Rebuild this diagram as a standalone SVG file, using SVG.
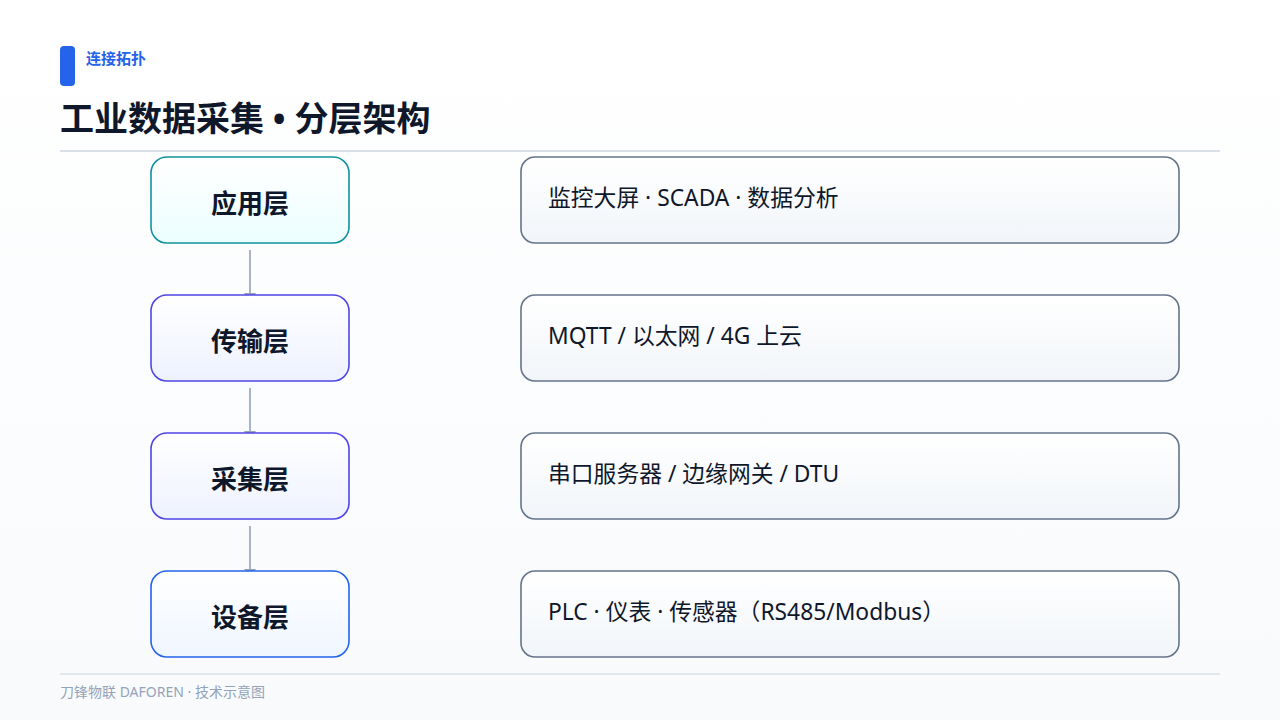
<svg xmlns="http://www.w3.org/2000/svg" width="1280" height="720" viewBox="0 0 1280 720">
<defs>
<linearGradient id="bg" x1="0" y1="0" x2="0" y2="1"><stop offset="0" stop-color="#ffffff"/><stop offset="1" stop-color="#f8fafc"/></linearGradient>
<linearGradient id="gTeal" x1="0" y1="0" x2="0" y2="1"><stop offset="0" stop-color="#ffffff"/><stop offset="1" stop-color="#ecfeff"/></linearGradient>
<linearGradient id="gIndigo" x1="0" y1="0" x2="0" y2="1"><stop offset="0" stop-color="#ffffff"/><stop offset="1" stop-color="#eef2ff"/></linearGradient>
<linearGradient id="gBlue" x1="0" y1="0" x2="0" y2="1"><stop offset="0" stop-color="#ffffff"/><stop offset="1" stop-color="#eff6ff"/></linearGradient>
<linearGradient id="gSlate" x1="0" y1="0" x2="0" y2="1"><stop offset="0" stop-color="#ffffff"/><stop offset="1" stop-color="#f1f5f9"/></linearGradient>
<marker id="arr" markerWidth="10" markerHeight="12" refX="9" refY="6" orient="auto" markerUnits="userSpaceOnUse"><path d="M0,0 L10,6 L0,12 Z" fill="#94a3b8"/></marker>
<style>
text{font-family:"Noto Sans","Noto Sans CJK SC",sans-serif;}
.lbl{font-size:26px;font-weight:700;fill:#0f172a;text-anchor:middle;}
.desc{font-size:22.8px;fill:#0f172a;}
.rbox{fill:url(#gSlate);stroke:#64748b;stroke-width:1.6;}
.conn{stroke:#94a3b8;stroke-width:1.6;fill:none;}
</style>
</defs>
<rect width="1280" height="720" fill="url(#bg)"/>
<g id="header">
<rect x="60" y="46" width="15" height="40" rx="4" fill="#2563eb"/>
<text x="86" y="64" font-size="15" font-weight="700" fill="#2563eb">连接拓扑</text>
<text x="60" y="131" font-size="34" font-weight="700" fill="#0f172a">工业数据采集 • 分层架构</text>
<line x1="60" y1="151" x2="1220" y2="151" stroke="#cbd5e1" stroke-width="1.5"/>
</g>
<g id="connectors">
<line class="conn" x1="250" y1="250" x2="250" y2="302" marker-end="url(#arr)"/>
<line class="conn" x1="250" y1="388" x2="250" y2="440" marker-end="url(#arr)"/>
<line class="conn" x1="250" y1="526" x2="250" y2="578" marker-end="url(#arr)"/>
</g>
<g id="node-app">
<rect x="151" y="157" width="198" height="86" rx="16" fill="url(#gTeal)" stroke="#0e939f" stroke-width="1.6"/>
<text class="lbl" x="250" y="213">应用层</text>
</g>
<g id="node-trans">
<rect x="151" y="295" width="198" height="86" rx="16" fill="url(#gIndigo)" stroke="#4f46e5" stroke-width="1.6"/>
<text class="lbl" x="250" y="351">传输层</text>
</g>
<g id="node-collect">
<rect x="151" y="433" width="198" height="86" rx="16" fill="url(#gIndigo)" stroke="#4f46e5" stroke-width="1.6"/>
<text class="lbl" x="250" y="489">采集层</text>
</g>
<g id="node-device">
<rect x="151" y="571" width="198" height="86" rx="16" fill="url(#gBlue)" stroke="#2563eb" stroke-width="1.6"/>
<text class="lbl" x="250" y="627">设备层</text>
</g>
<g id="desc-app">
<rect class="rbox" x="521" y="157" width="658" height="86" rx="14"/>
<text class="desc" x="548" y="206">监控大屏 · SCADA · 数据分析</text>
</g>
<g id="desc-trans">
<rect class="rbox" x="521" y="295" width="658" height="86" rx="14"/>
<text class="desc" x="548" y="344">MQTT / 以太网 / 4G 上云</text>
</g>
<g id="desc-collect">
<rect class="rbox" x="521" y="433" width="658" height="86" rx="14"/>
<text class="desc" x="548" y="482">串口服务器 / 边缘网关 / DTU</text>
</g>
<g id="desc-device">
<rect class="rbox" x="521" y="571" width="658" height="86" rx="14"/>
<text class="desc" x="548" y="620">PLC · 仪表 · 传感器（RS485/Modbus）</text>
</g>
<g id="footer">
<line x1="60" y1="674" x2="1220" y2="674" stroke="#cbd5e1" stroke-width="1"/>
<text x="60" y="697" font-size="14" fill="#94a3b8">刀锋物联 DAFOREN · 技术示意图</text>
</g>
</svg>
